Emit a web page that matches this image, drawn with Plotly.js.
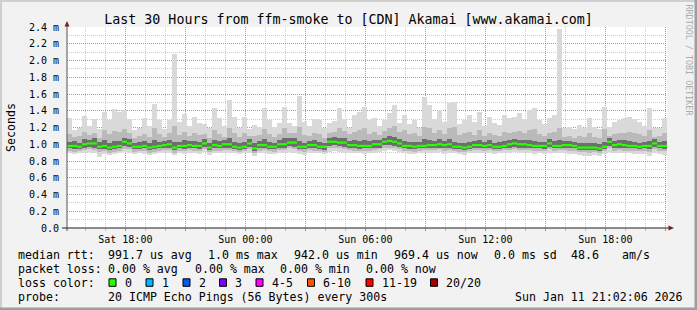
<!DOCTYPE html>
<html><head><meta charset="utf-8">
<script src="https://cdn.plot.ly/plotly-3.0.1.min.js"></script>
<style>html,body{margin:0;padding:0;background:#f2f2f2;overflow:hidden}#chart{width:697px;height:310px}</style>
</head><body><div id="chart"></div>
<script>
// ---- data (ms), 15-minute bins from Sat 15:05 to Sun 21:05 ----
const binStartUTC = Date.UTC(2026, 0, 10, 15, 5);
const binMinutes = 15;

const rttMin = [
 0.89,0.88,0.90,0.90,0.91,0.89,0.85,0.88,0.87,0.88,
 0.89,0.91,0.90,0.88,0.89,0.88,0.87,0.88,0.89,0.90,
 0.90,0.87,0.89,0.88,0.90,0.89,0.88,0.91,0.87,0.89,
 0.89,0.90,0.90,0.89,0.88,0.89,0.90,0.86,0.89,0.90,
 0.88,0.88,0.90,0.89,0.91,0.90,0.88,0.87,0.90,0.89,
 0.89,0.88,0.91,0.92,0.91,0.90,0.90,0.89,0.89,0.88,
 0.89,0.90,0.91,0.92,0.93,0.92,0.91,0.89,0.88,0.88,
 0.89,0.89,0.90,0.90,0.91,0.88,0.90,0.89,0.88,0.87,
 0.89,0.90,0.90,0.89,0.90,0.88,0.89,0.90,0.89,0.91,
 0.90,0.90,0.89,0.88,0.89,0.88,0.90,0.89,0.89,0.90,
 0.88,0.88,0.87,0.86,0.86,0.87,0.86,0.88,0.91,0.89,
 0.90,0.89,0.89,0.88,0.88,0.88,0.86,0.89,0.88,0.87];
const rttLowMid = [
 0.92,0.91,0.92,0.93,0.94,0.93,0.91,0.92,0.90,0.91,
 0.92,0.94,0.94,0.91,0.92,0.92,0.90,0.91,0.92,0.93,
 0.93,0.90,0.92,0.92,0.93,0.92,0.92,0.94,0.91,0.92,
 0.92,0.93,0.93,0.92,0.91,0.92,0.94,0.90,0.92,0.93,
 0.92,0.91,0.93,0.93,0.95,0.94,0.92,0.91,0.93,0.92,
 0.92,0.91,0.95,0.95,0.95,0.94,0.93,0.92,0.92,0.92,
 0.92,0.93,0.94,0.96,0.96,0.95,0.94,0.92,0.92,0.91,
 0.92,0.93,0.93,0.93,0.94,0.92,0.93,0.92,0.91,0.91,
 0.92,0.93,0.93,0.92,0.93,0.92,0.92,0.93,0.93,0.94,
 0.93,0.93,0.93,0.92,0.92,0.92,0.94,0.92,0.93,0.93,
 0.92,0.92,0.91,0.91,0.90,0.91,0.90,0.92,0.95,0.92,
 0.93,0.92,0.92,0.92,0.92,0.92,0.91,0.94,0.92,0.92];
const rttLowCore = [
 0.95,0.94,0.94,0.96,0.97,0.96,0.94,0.94,0.93,0.94,
 0.95,0.98,0.97,0.94,0.94,0.95,0.93,0.94,0.95,0.95,
 0.96,0.93,0.95,0.94,0.95,0.95,0.94,0.97,0.93,0.95,
 0.95,0.96,0.96,0.94,0.93,0.94,0.97,0.92,0.95,0.95,
 0.94,0.94,0.96,0.96,0.98,0.97,0.94,0.94,0.95,0.95,
 0.94,0.93,0.98,0.99,0.98,0.97,0.95,0.95,0.94,0.95,
 0.95,0.96,0.96,0.99,0.99,0.98,0.97,0.95,0.94,0.94,
 0.95,0.95,0.95,0.96,0.96,0.95,0.96,0.94,0.94,0.93,
 0.94,0.95,0.95,0.95,0.95,0.94,0.94,0.95,0.96,0.97,
 0.96,0.96,0.95,0.95,0.95,0.94,0.97,0.95,0.95,0.95,
 0.95,0.95,0.93,0.93,0.93,0.93,0.92,0.94,0.98,0.95,
 0.96,0.95,0.95,0.95,0.94,0.95,0.94,0.97,0.95,0.94];
const rttMedian = [
 0.98,0.98,0.97,1.00,1.01,1.01,0.97,0.98,0.96,0.97,
 0.98,1.03,1.01,0.97,0.97,0.98,0.96,0.97,0.98,0.99,
 1.00,0.96,0.98,0.98,0.99,0.98,0.98,1.01,0.96,0.99,
 0.98,1.00,1.00,0.97,0.96,0.97,1.01,0.95,0.99,0.99,
 0.97,0.97,1.00,1.00,1.02,1.02,0.97,0.97,0.99,0.99,
 0.97,0.97,1.03,1.03,1.02,1.02,0.99,0.99,0.98,0.98,
 0.98,1.00,1.00,1.03,1.04,1.03,1.01,0.98,0.98,0.97,
 0.98,0.98,0.99,0.99,1.00,0.99,1.00,0.97,0.97,0.96,
 0.97,0.99,0.99,0.98,0.99,0.97,0.97,0.98,1.00,1.01,
 1.00,1.00,0.99,0.98,0.98,0.98,1.01,0.98,0.98,0.99,
 0.99,0.98,0.96,0.96,0.96,0.96,0.95,0.97,1.03,0.99,
 1.00,0.99,0.98,0.98,0.97,0.98,0.98,1.01,0.98,0.98];
const rttHighCore = [
 1.03,1.04,1.02,1.06,1.05,1.07,1.03,1.05,1.02,1.04,
 1.04,1.08,1.06,1.02,1.03,1.04,1.01,1.05,1.03,1.04,
 1.05,1.03,1.03,1.05,1.04,1.04,1.03,1.06,1.02,1.05,
 1.04,1.05,1.07,1.03,1.01,1.03,1.06,1.01,1.04,1.06,
 1.03,1.02,1.05,1.07,1.07,1.08,1.04,1.02,1.04,1.05,
 1.03,1.02,1.08,1.09,1.08,1.07,1.04,1.05,1.04,1.05,
 1.04,1.05,1.05,1.08,1.10,1.09,1.06,1.04,1.03,1.03,
 1.03,1.06,1.05,1.04,1.06,1.04,1.06,1.03,1.02,1.02,
 1.03,1.04,1.05,1.03,1.05,1.02,1.03,1.04,1.05,1.06,
 1.05,1.05,1.05,1.04,1.03,1.03,1.06,1.04,1.05,1.04,
 1.04,1.03,1.01,1.01,1.02,1.01,1.00,1.03,1.08,1.04,
 1.05,1.05,1.04,1.03,1.02,1.03,1.04,1.06,1.03,1.04];
const rttHighMid = [
 1.12,1.09,1.10,1.15,1.11,1.14,1.08,1.17,1.12,1.16,
 1.15,1.18,1.13,1.08,1.10,1.12,1.09,1.19,1.12,1.09,
 1.13,1.22,1.11,1.15,1.10,1.14,1.11,1.12,1.08,1.17,
 1.12,1.09,1.20,1.14,1.09,1.13,1.10,1.10,1.11,1.18,
 1.12,1.09,1.12,1.19,1.13,1.14,1.21,1.11,1.10,1.14,
 1.12,1.08,1.13,1.15,1.20,1.16,1.12,1.15,1.17,1.19,
 1.12,1.15,1.11,1.16,1.19,1.22,1.15,1.17,1.12,1.14,
 1.10,1.21,1.19,1.13,1.17,1.12,1.20,1.21,1.11,1.13,
 1.15,1.11,1.17,1.10,1.14,1.11,1.10,1.15,1.14,1.15,
 1.16,1.13,1.17,1.18,1.12,1.10,1.14,1.15,1.20,1.09,
 1.10,1.08,1.10,1.09,1.13,1.09,1.08,1.18,1.10,1.12,
 1.13,1.14,1.15,1.13,1.12,1.10,1.17,1.09,1.10,1.13];
const rttMax = [
 1.31,1.17,1.20,1.34,1.22,1.30,1.18,1.39,1.29,1.42,
 1.38,1.41,1.30,1.17,1.20,1.31,1.22,1.48,1.29,1.18,
 1.29,2.08,1.27,1.36,1.22,1.33,1.25,1.24,1.19,1.43,
 1.31,1.22,1.53,1.33,1.20,1.33,1.18,1.23,1.21,1.43,
 1.29,1.21,1.25,1.45,1.25,1.22,1.58,1.27,1.22,1.30,
 1.29,1.20,1.25,1.28,1.43,1.30,1.20,1.35,1.39,1.45,
 1.29,1.31,1.22,1.29,1.37,1.47,1.25,1.35,1.24,1.29,
 1.20,1.57,1.47,1.30,1.41,1.27,1.49,1.51,1.24,1.29,
 1.35,1.26,1.39,1.22,1.33,1.25,1.23,1.35,1.31,1.33,
 1.37,1.30,1.41,1.43,1.29,1.24,1.31,1.35,2.38,1.20,
 1.21,1.18,1.23,1.20,1.31,1.21,1.18,1.44,1.21,1.27,
 1.29,1.31,1.33,1.30,1.27,1.22,1.43,1.19,1.20,1.31];

const yTickVals = [0, 0.2, 0.4, 0.6, 0.8, 1.0, 1.2, 1.4, 1.6, 1.8, 2.0, 2.2, 2.4];
const yTickText = ['0.0','0.2 m','0.4 m','0.6 m','0.8 m','1.0 m','1.2 m','1.4 m','1.6 m','1.8 m','2.0 m','2.2 m','2.4 m'];
const xTickVals = ['2026-01-10 18:00','2026-01-10 21:00','2026-01-11 00:00','2026-01-11 03:00','2026-01-11 06:00',
                   '2026-01-11 09:00','2026-01-11 12:00','2026-01-11 15:00','2026-01-11 18:00','2026-01-11 21:00'];
const xTickText = ['Sat 18:00','','Sun 00:00','','Sun 06:00','','Sun 12:00','','Sun 18:00',''];

const titleText = 'Last 30 Hours from ffm-smoke to [CDN] Akamai [www.akamai.com]';
const rttStats = ['991.7 us avg','1.0 ms max','942.0 us min','969.4 us now','0.0 ms sd','48.6','am/s'];
const lossStats = ['0.00 % avg','0.00 % max','0.00 % min','0.00 % now'];
const lossLabels = ['0','1','2','3','4-5','6-10','11-19','20/20'];
const lossColors = ['#26ff00','#00b8ff','#0059ff','#7e00ff','#ff00ff','#ff5500','#ff0000','#a00000'];
const probeText = '20 ICMP Echo Pings (56 Bytes) every 300s';
const stampText = 'Sun Jan 11 21:02:06 2026';

// ---- layout geometry (pixels) ----
const PL = 67, PR = 667, PT = 27, PB = 228;
const X = px => (px - PL) / (PR - PL);
const Y = py => (PB - py) / (PB - PT);
const rttStatX = [107.3, 207.3, 293.3, 392.7, 493, 570.3, 621];
const lossStatX = [107.3, 194, 279.3, 365.3];
const lossBoxX = [109, 146, 183, 219.5, 256, 307.5, 366, 430.5];
const rowY = [254.5, 268.7, 282.8, 297];
const MONO = 'DejaVu Sans Mono';

const binMs = binMinutes * 60000;
const times = rttMedian.map((_, i) => binStartUTC + (i + 0.5) * binMs);

function band(lower, upper, color) {
  return {type: 'bar', x: times, base: lower, y: upper.map((u, i) => u - lower[i]),
    width: binMs, marker: {color: color, line: {width: 0}}, hoverinfo: 'skip', showlegend: false};
}
const traces = [
  band(rttMin, rttMax, '#d9d9d9'),
  band(rttLowMid, rttHighMid, '#bababa'),
  band(rttLowCore, rttHighCore, '#6e6e6e'),
  {type: 'scatter', mode: 'markers', x: times, y: rttMedian, hoverinfo: 'skip', showlegend: false,
   marker: {symbol: 'line-ew', size: 3.6, color: lossColors[0], line: {width: 2.2, color: lossColors[0]}}}
];

const ann = [];
function txt(px, py, s, extra) {
  ann.push(Object.assign({xref: 'paper', yref: 'paper', x: X(px - 1), y: Y(py), text: s, showarrow: false,
    xanchor: 'left', yanchor: 'middle', font: {family: MONO, size: 11.6, color: '#000'}}, extra || {}));
}
txt(16.7, rowY[0], 'median rtt:');
rttStats.forEach((s, i) => txt(rttStatX[i], rowY[0], s));
txt(16.7, rowY[1], 'packet loss:');
lossStats.forEach((s, i) => txt(lossStatX[i], rowY[1], s));
txt(16.7, rowY[2], 'loss color:');
lossLabels.forEach((s, i) => txt(lossBoxX[i] + 14.5, rowY[2], s));
txt(16.7, rowY[3], 'probe:');
txt(107.3, rowY[3], probeText);
txt(513.7, rowY[3], stampText);
ann.push({xref: 'paper', yref: 'paper', x: X(10.5), y: Y(127.5), text: 'Seconds', showarrow: false,
  textangle: -90, xanchor: 'center', yanchor: 'middle', font: {family: MONO, size: 11.6, color: '#000'}});
ann.push({xref: 'paper', yref: 'paper', x: X(688.5), y: Y(60), text: 'RRDTOOL / TOBI OETIKER', showarrow: false,
  textangle: 90, xanchor: 'center', yanchor: 'middle', font: {family: MONO, size: 8.4, color: '#ababab'}});

const shapes = [];
// frame shading
shapes.push({type: 'rect', xref: 'paper', yref: 'paper', x0: X(0), x1: X(697), y0: Y(0), y1: Y(2), fillcolor: '#cfcfcf', line: {width: 0}});
shapes.push({type: 'rect', xref: 'paper', yref: 'paper', x0: X(0), x1: X(2), y0: Y(0), y1: Y(310), fillcolor: '#cfcfcf', line: {width: 0}});
shapes.push({type: 'rect', xref: 'paper', yref: 'paper', x0: X(0), x1: X(697), y0: Y(307.5), y1: Y(310), fillcolor: '#9e9e9e', line: {width: 0}});
shapes.push({type: 'rect', xref: 'paper', yref: 'paper', x0: X(694.5), x1: X(697), y0: Y(0), y1: Y(310), fillcolor: '#9e9e9e', line: {width: 0}});
// axes with arrows
shapes.push({type: 'line', xref: 'paper', yref: 'paper', x0: X(67), x1: X(67), y0: Y(231), y1: Y(24), line: {color: '#555555', width: 1}});
shapes.push({type: 'line', xref: 'paper', yref: 'paper', x0: X(62), x1: X(669), y0: Y(228), y1: Y(228), line: {color: '#1f1f1f', width: 1}});
shapes.push({type: 'path', xref: 'paper', yref: 'paper', fillcolor: '#801f1f', line: {width: 0},
  path: `M${X(64.5)},${Y(26.5)} L${X(67)},${Y(21)} L${X(69.5)},${Y(26.5)} Z`});
shapes.push({type: 'path', xref: 'paper', yref: 'paper', fillcolor: '#801f1f', line: {width: 0},
  path: `M${X(668.5)},${Y(225.5)} L${X(674)},${Y(228)} L${X(668.5)},${Y(230.5)} Z`});
// loss colour boxes
lossColors.forEach((c, i) => shapes.push({type: 'rect', xref: 'paper', yref: 'paper',
  x0: X(lossBoxX[i]), x1: X(lossBoxX[i] + 7), y0: Y(rowY[2] - 4), y1: Y(rowY[2] + 3.5),
  fillcolor: c, line: {color: '#000', width: 1}}));

const layout = {
  width: 697, height: 310,
  margin: {l: PL, r: 697 - PR, t: PT, b: 310 - PB, autoexpand: false},
  paper_bgcolor: '#f2f2f2', plot_bgcolor: '#ffffff',
  barmode: 'overlay', bargap: 0,
  showlegend: false,
  title: {text: titleText, font: {family: MONO, size: 13.3, color: '#000'},
    x: 0.5, xref: 'container', xanchor: 'center', y: 1 - 19.5 / 310, yref: 'container', yanchor: 'middle'},
  xaxis: {type: 'date', range: ['2026-01-10 15:05', '2026-01-11 21:05'],
    tickmode: 'array', tickvals: xTickVals, ticktext: xTickText,
    showgrid: true, gridcolor: 'rgba(222,79,79,0.55)', griddash: '1px,1px', gridwidth: 1,
    ticks: 'outside', ticklen: 2, tickcolor: 'rgba(222,79,79,0.7)',
    minor: {tickmode: 'linear', tick0: '2026-01-10 00:00', dtick: 3600000, showgrid: true,
      gridcolor: 'rgba(143,143,143,0.45)', griddash: '1px,1px', ticks: 'outside', ticklen: 2, tickcolor: 'rgba(143,143,143,0.6)'},
    showline: false, zeroline: false, fixedrange: true,
    tickfont: {family: MONO, size: 10, color: '#000'}},
  yaxis: {range: [0, 2.4], tickmode: 'array', tickvals: yTickVals, ticktext: yTickText,
    showgrid: true, gridcolor: 'rgba(222,79,79,0.55)', griddash: '1px,1px', gridwidth: 1,
    minor: {tickmode: 'linear', tick0: 0, dtick: 0.1, showgrid: true, gridcolor: 'rgba(143,143,143,0.45)', griddash: '1px,1px'},
    ticks: 'outside', ticklen: 5, tickcolor: 'rgba(0,0,0,0)',
    showline: false, zeroline: false, fixedrange: true,
    tickfont: {family: MONO, size: 10, color: '#000'}},
  annotations: ann,
  shapes: shapes
};

Plotly.newPlot('chart', traces, layout, {staticPlot: true, displayModeBar: false});
</script>
</body></html>
